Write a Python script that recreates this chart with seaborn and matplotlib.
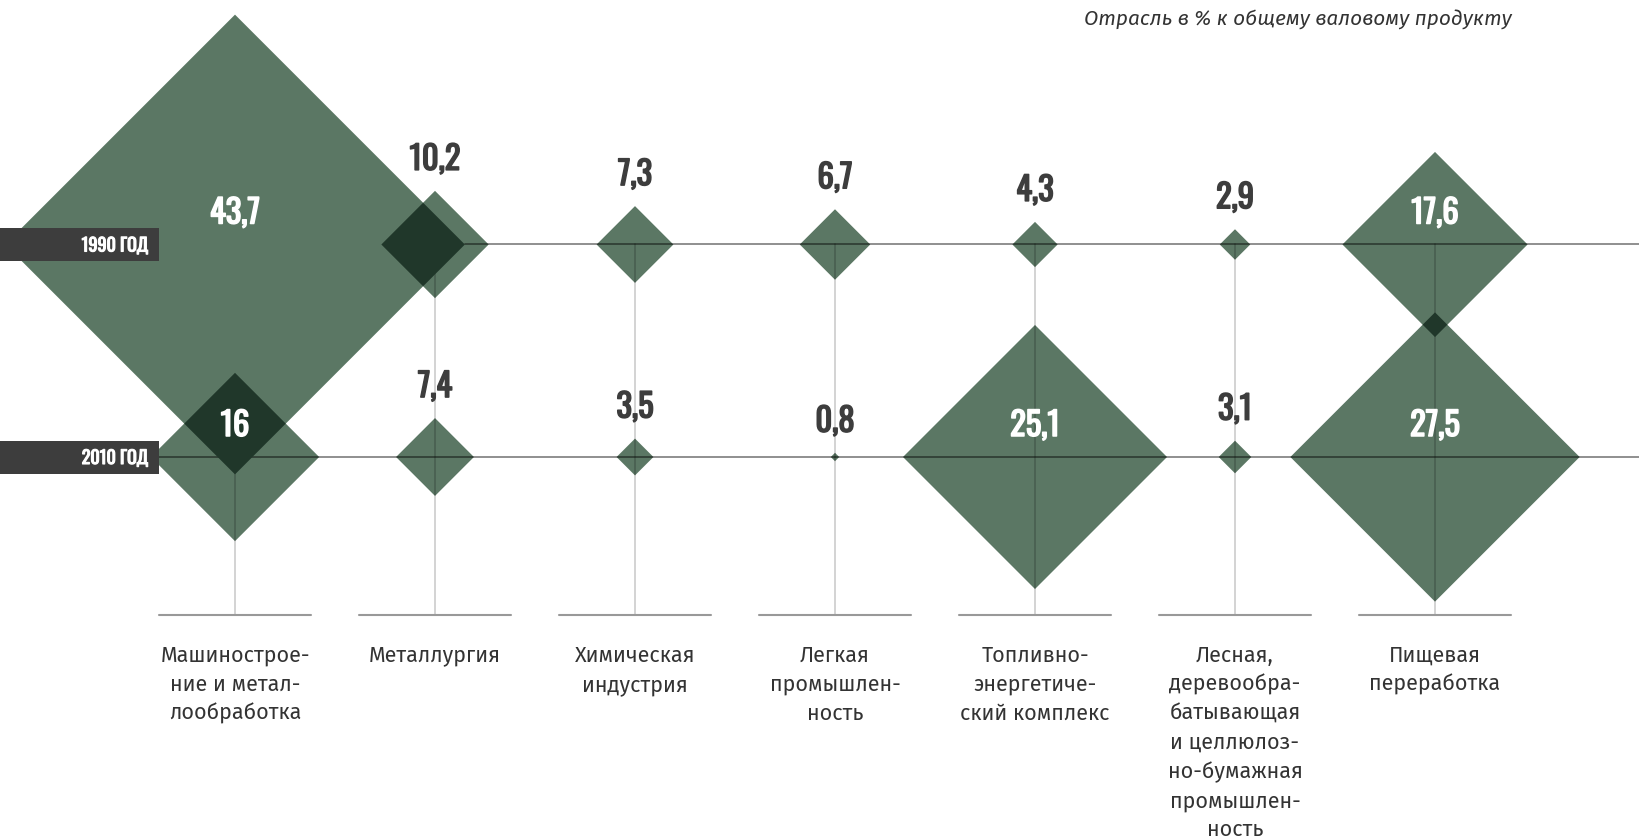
import numpy as np
import matplotlib.pyplot as plt
import matplotlib.patheffects as pe
import seaborn as sns
from matplotlib.patches import Polygon, Rectangle

# data: share of industry in gross product, %
industries = ["Машинострое-\nние и метал-\nлообработка",
              "Металлургия",
              "Химическая\nиндустрия",
              "Легкая\nпромышлен-\nность",
              "Топливно-\nэнергетиче-\nский комплекс",
              "Лесная,\nдеревообра-\nбатывающая\nи целлюлоз-\nно-бумажная\nпромышлен-\nность",
              "Пищевая\nпереработка"]
years = ["1990 ГОД", "2010 ГОД"]
values_1990 = [43.7, 10.2, 7.3, 6.7, 4.3, 2.9, 17.6]
values_2010 = [16, 7.4, 3.5, 0.8, 25.1, 3.1, 27.5]
title = "Отрасль в % к общему валовому продукту"

green = '#5b7764'
dark = '#20372a'
box_col = '#3d3d3d'
narrow = ['Oswald', 'DejaVu Sans']

sns.set_theme(style='white')
plt.rcParams['font.family'] = ['Fira Sans', 'Open Sans', 'DejaVu Sans']

fig = plt.figure(figsize=(16.4, 8.38), dpi=100)
ax = fig.add_axes([0, 0, 1, 1])
ax.set_xlim(0, 1640)
ax.set_ylim(838, 0)
ax.axis('off')

scale = 5.26  # half-diagonal per percent
col_x = 235 + 200 * np.arange(len(industries))
row_y = [244.5, 457]
base_y = 615


def fmt(v):
    return f"{v:g}".replace('.', ',')


def bold(c, w=1.1):
    return [pe.withStroke(linewidth=w, foreground=c)]


# diamonds
diamonds = []
for r, vals in enumerate([values_1990, values_2010]):
    for i, v in enumerate(vals):
        cx, cy, h = col_x[i], row_y[r], v * scale
        diamonds.append((cx, cy, h))
        ax.add_patch(Polygon([(cx, cy - h), (cx + h, cy), (cx, cy + h), (cx - h, cy)],
                             closed=True, facecolor=green, lw=0, zorder=2))

# overlaps (multiply look) - intersection in rotated coords
for a in range(len(diamonds)):
    for b in range(a + 1, len(diamonds)):
        x1, y1, h1 = diamonds[a]
        x2, y2, h2 = diamonds[b]
        u0 = max(x1 + y1 - h1, x2 + y2 - h2)
        u1 = min(x1 + y1 + h1, x2 + y2 + h2)
        v0 = max(x1 - y1 - h1, x2 - y2 - h2)
        v1 = min(x1 - y1 + h1, x2 - y2 + h2)
        if u0 < u1 and v0 < v1:
            pts = [((u + v) / 2, (u - v) / 2) for u, v in [(u0, v0), (u1, v0), (u1, v1), (u0, v1)]]
            ax.add_patch(Polygon(pts, closed=True, facecolor=dark, lw=0, zorder=4))

# grid lines
first_tip = col_x[0] + values_1990[0] * scale
ax.plot([first_tip, 1640], [row_y[0]] * 2, color='black', alpha=0.47, lw=1.3, zorder=3)
ax.plot([159, 1640], [row_y[1]] * 2, color='black', alpha=0.47, lw=1.3, zorder=3)
for i, x in enumerate(col_x):
    top = row_y[1] if i == 0 else row_y[0]
    ax.plot([x, x], [top, base_y], color='black', alpha=0.2, lw=1.2, zorder=3)
    ax.plot([x - 76, x + 76], [base_y, base_y], color='#999999', lw=1.5, zorder=3)
    ax.text(x, 645, industries[i], ha='center', va='top', fontsize=15.5,
            color='#333333', linespacing=1.45)

# year boxes
for y, lab in zip(row_y, years):
    ax.add_patch(Rectangle((0, y - 16.5), 159, 33, facecolor=box_col, lw=0, zorder=5))
    ax.text(148, y + 1, lab, ha='right', va='center', color='white', fontsize=13,
            family=narrow, zorder=6, path_effects=bold('white', 0.8))

# value labels
for r, vals in enumerate([values_1990, values_2010]):
    for i, v in enumerate(vals):
        h = v * scale
        if v >= 15:
            ax.text(col_x[i], row_y[r] - 31, fmt(v), ha='center', va='center', color='white',
                    fontsize=23.5, family=narrow, zorder=6, path_effects=bold('white'))
        else:
            ax.text(col_x[i], row_y[r] - h - 31, fmt(v), ha='center', va='center', color=box_col,
                    fontsize=23.5, family=narrow, zorder=6, path_effects=bold(box_col))

ax.text(1512, 19, title, ha='right', va='center', fontsize=15, style='italic',
        color='#333333')

fig.savefig('out.png', dpi=100)
